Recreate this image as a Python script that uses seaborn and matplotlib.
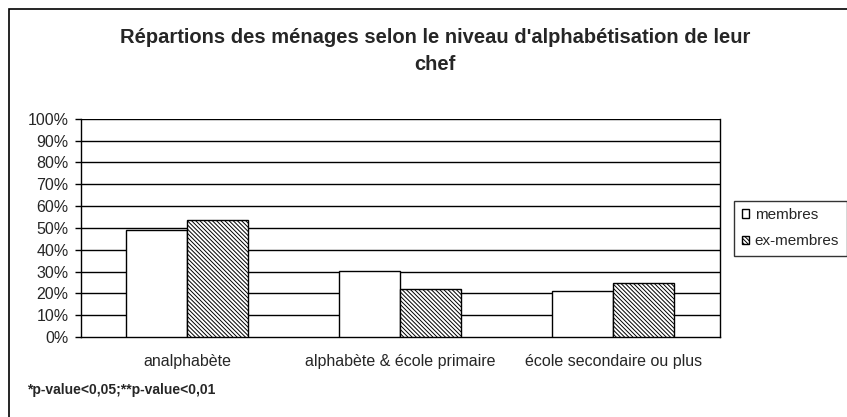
import pandas as pd
import matplotlib
matplotlib.use("Agg")
import matplotlib.pyplot as plt
import seaborn as sns
from matplotlib.patches import Rectangle

categories = ["analphabète", "alphabète & école primaire", "école secondaire ou plus"]
membres = [49.0, 30.1, 21.2]
ex_membres = [53.4, 22.2, 24.6]
series = ["membres", "ex-membres"]
yticks = list(range(0, 101, 10))

df = pd.DataFrame({
    "niveau": categories * 2,
    "groupe": [series[0]] * 3 + [series[1]] * 3,
    "pct": membres + ex_membres,
})

sns.set_style("white")
plt.rcParams["font.family"] = ["Liberation Sans", "DejaVu Sans"]
plt.rcParams["hatch.linewidth"] = 0.7

fig = plt.figure(figsize=(8.47, 4.17), dpi=100)
ax = fig.add_axes([0.0956, 0.192, 0.7544, 0.523])

sns.barplot(data=df, x="niveau", y="pct", hue="groupe", hue_order=series,
            order=categories, palette=["white", "white"], width=0.573,
            edgecolor="black", linewidth=1, legend=False, ax=ax, zorder=3)

# hatch the second series (dense diagonal lines)
for bar in ax.containers[1]:
    bar.set_hatch("\\" * 8)

ax.set_ylim(0, 100)
ax.set_xlim(-0.5, 2.5)
ax.set_yticks(yticks)
ax.set_yticklabels([f"{v}%" for v in yticks], fontsize=11.5)
ax.set_xticks(range(3))
ax.set_xticklabels(categories, fontsize=11.5)
ax.set_xticks([-0.5, 0.5, 1.5, 2.5], minor=True)
ax.tick_params(axis="x", which="major", length=0, pad=12)
ax.tick_params(axis="x", which="minor", length=4, width=1, color="black", direction="out")
ax.tick_params(axis="y", length=4, width=1, color="black", direction="out", pad=5, left=True)
ax.set_xlabel("")
ax.set_ylabel("")

for v in yticks[1:]:
    ax.axhline(v, color="black", lw=1, zorder=1)

for side in ["left", "bottom", "right"]:
    ax.spines[side].set_visible(True)
    ax.spines[side].set_color("black")
    ax.spines[side].set_linewidth(1)
ax.spines["top"].set_visible(False)

handles = [ax.containers[0][0], ax.containers[1][0]]
leg = fig.legend(handles, series, loc="upper left", bbox_to_anchor=(0.8666, 0.519),
                 frameon=True, fancybox=False, edgecolor="black", fontsize=11,
                 handlelength=0.5, handleheight=0.5, handletextpad=0.35,
                 borderpad=0.5, labelspacing=0.8, borderaxespad=0)
leg.get_frame().set_linewidth(1)

fig.text(0.514, 0.878, "Répartions des ménages selon le niveau d'alphabétisation de leur\nchef",
         ha="center", va="center", fontsize=14.5, fontweight="bold", linespacing=1.55)
fig.text(0.032, 0.065, "*p-value<0,05;**p-value<0,01", fontsize=10, fontweight="bold",
         va="center")

fig.patches.append(Rectangle((9 / 847, -0.05), 1.2, 1 - 9 / 417 + 0.05,
                             transform=fig.transFigure, fill=False,
                             edgecolor="black", lw=1.2))

fig.savefig("out.png", dpi=100)
